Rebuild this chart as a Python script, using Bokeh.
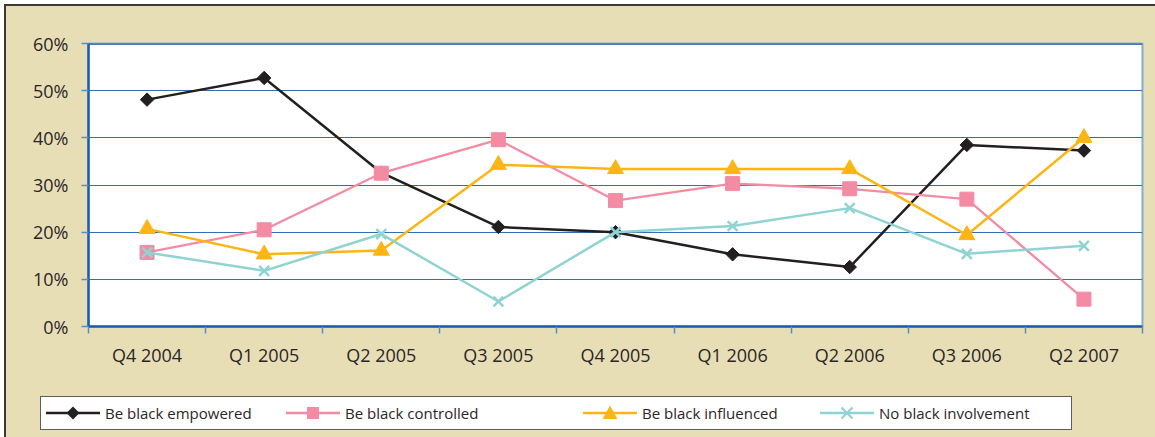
import math
from bokeh.plotting import figure
from bokeh.layouts import column
from bokeh.models import Range1d, FixedTicker, NumeralTickFormatter, Span, Div
from bokeh.embed import file_html
from bokeh.resources import INLINE

quarters = ["Q4 2004", "Q1 2005", "Q2 2005", "Q3 2005", "Q4 2005",
            "Q1 2006", "Q2 2006", "Q3 2006", "Q2 2007"]
empowered = [48.1, 52.7, 32.6, 21.1, 20.0, 15.3, 12.6, 38.5, 37.3]
controlled = [15.7, 20.5, 32.5, 39.6, 26.7, 30.3, 29.2, 27.0, 5.8]
influenced = [20.7, 15.3, 16.1, 34.3, 33.4, 33.4, 33.4, 19.4, 40.0]
no_involvement = [15.7, 11.8, 19.6, 5.3, 20.0, 21.3, 25.1, 15.4, 17.1]
y_ticks = [0, 10, 20, 30, 40, 50, 60]
series_names = ["Be black empowered", "Be black controlled",
                "Be black influenced", "No black involvement"]

FONT = "Open Sans"
TEXT = "#2a2627"
BEIGE = "#e8deb6"
DARKBLUE = "#1b5fab"
GRIDBLUE = "#2f6fb6"

n = len(quarters)
xpos = [i + 0.5 for i in range(n)]

p = figure(width=1149, height=374, x_range=Range1d(0, n), y_range=Range1d(0, 0.6),
           output_backend="svg", toolbar_location=None,
           min_border_left=82, min_border_right=13, min_border_top=37, min_border_bottom=54,
           background_fill_color="white", border_fill_color=BEIGE)
p.outline_line_color = "#86acd0"
p.outline_line_width = 2

xa = p.xaxis[0]
xa.ticker = FixedTicker(ticks=xpos, minor_ticks=list(range(n + 1)))
xa.major_label_overrides = {x: q for x, q in zip(xpos, quarters)}
xa.major_tick_line_color = None
xa.major_tick_out = 0
xa.major_tick_in = 0
xa.minor_tick_out = 7
xa.minor_tick_in = 0
xa.minor_tick_line_color = "#5a8dc5"
xa.minor_tick_line_width = 1.5
xa.axis_line_color = DARKBLUE
xa.axis_line_width = 2.5
xa.major_label_standoff = 9
xa.major_label_text_font = FONT
xa.major_label_text_font_size = "18px"
xa.major_label_text_color = TEXT

ya = p.yaxis[0]
ya.ticker = FixedTicker(ticks=[t / 100 for t in y_ticks])
ya.formatter = NumeralTickFormatter(format="0%")
ya.major_tick_out = 7
ya.major_tick_in = 0
ya.major_tick_line_color = "#5a8dc5"
ya.major_tick_line_width = 1.5
ya.minor_tick_line_color = None
ya.axis_line_color = DARKBLUE
ya.axis_line_width = 2.5
ya.major_label_standoff = 13
ya.major_label_text_font = FONT
ya.major_label_text_font_size = "18px"
ya.major_label_text_color = TEXT

p.xgrid.visible = False
p.ygrid.grid_line_color = GRIDBLUE
p.ygrid.grid_line_width = 1
p.add_layout(Span(location=0.6, dimension="width", line_color=DARKBLUE, line_width=2.5,
                  level="overlay"))

styles = [
    dict(color="#231f20", marker="square", size=9.5, angle=math.pi / 4, lw=2.5),
    dict(color="#f48ba5", marker="square", size=14, angle=0, lw=2.3),
    dict(color="#fdb515", marker="triangle", size=16, angle=0, lw=2.5),
    dict(color="#8fd3d2", marker="x", size=14, angle=0, lw=2.5),
]
data = [empowered, controlled, influenced, no_involvement]

for vals, st in zip(data, styles):
    ys = [v / 100 for v in vals]
    p.line(xpos, ys, line_color=st["color"], line_width=st["lw"])
    p.scatter(xpos, ys, marker=st["marker"], size=st["size"], angle=st["angle"],
              fill_color=st["color"], line_color=st["color"],
              line_width=(st["lw"] if st["marker"] == "x" else 1))


# ---- legend strip (HTML, below the chart) ----
def swatch(st):
    c = st["color"]
    line = f'<line x1="0" y1="10" x2="54" y2="10" stroke="{c}" stroke-width="{st["lw"]}"/>'
    if st["marker"] == "square" and st["angle"]:
        m = f'<polygon points="27,3.5 33.5,10 27,16.5 20.5,10" fill="{c}"/>'
    elif st["marker"] == "square":
        m = f'<rect x="21" y="4" width="12" height="12" fill="{c}"/>'
    elif st["marker"] == "triangle":
        m = f'<polygon points="27,2.5 34.5,16 19.5,16" fill="{c}"/>'
    else:
        m = (f'<path d="M21.5,4.5 L32.5,15.5 M32.5,4.5 L21.5,15.5" stroke="{c}" '
             f'stroke-width="2.2" fill="none"/>')
    return f'<svg width="54" height="20" style="position:absolute;left:0;top:0">{line}{m}</svg>'


glyph_left = [40, 280, 577, 814]
parts = ['<div style="position:absolute;left:34px;top:16px;width:1032px;height:34px;'
         'box-sizing:border-box;border:1.5px solid #5f5d5a;background:#ffffff;"></div>']
for st, name, gx in zip(styles, series_names, glyph_left):
    parts.append(
        f'<div style="position:absolute;left:{gx}px;top:23px;width:320px;height:20px;">'
        f'{swatch(st)}'
        f'<span style="position:absolute;left:59px;top:0;line-height:20px;white-space:nowrap;'
        f'font-family:\'{FONT}\';font-size:15px;color:{TEXT};">{name}</span></div>')
legend_html = ('<div style="position:relative;width:1149px;height:57px;overflow:hidden;">'
               + "".join(parts) + '</div>')

leg = Div(text=legend_html, width=1149, height=57, margin=0,
          styles={"background-color": BEIGE})

layout = column(p, leg, spacing=0, margin=(4, 0, 0, 4),
                styles={"border-top": "2px solid #3d3a36", "border-left": "2px solid #3d3a36",
                        "background-color": BEIGE})

open("out.html", "w").write(file_html(layout, INLINE))
